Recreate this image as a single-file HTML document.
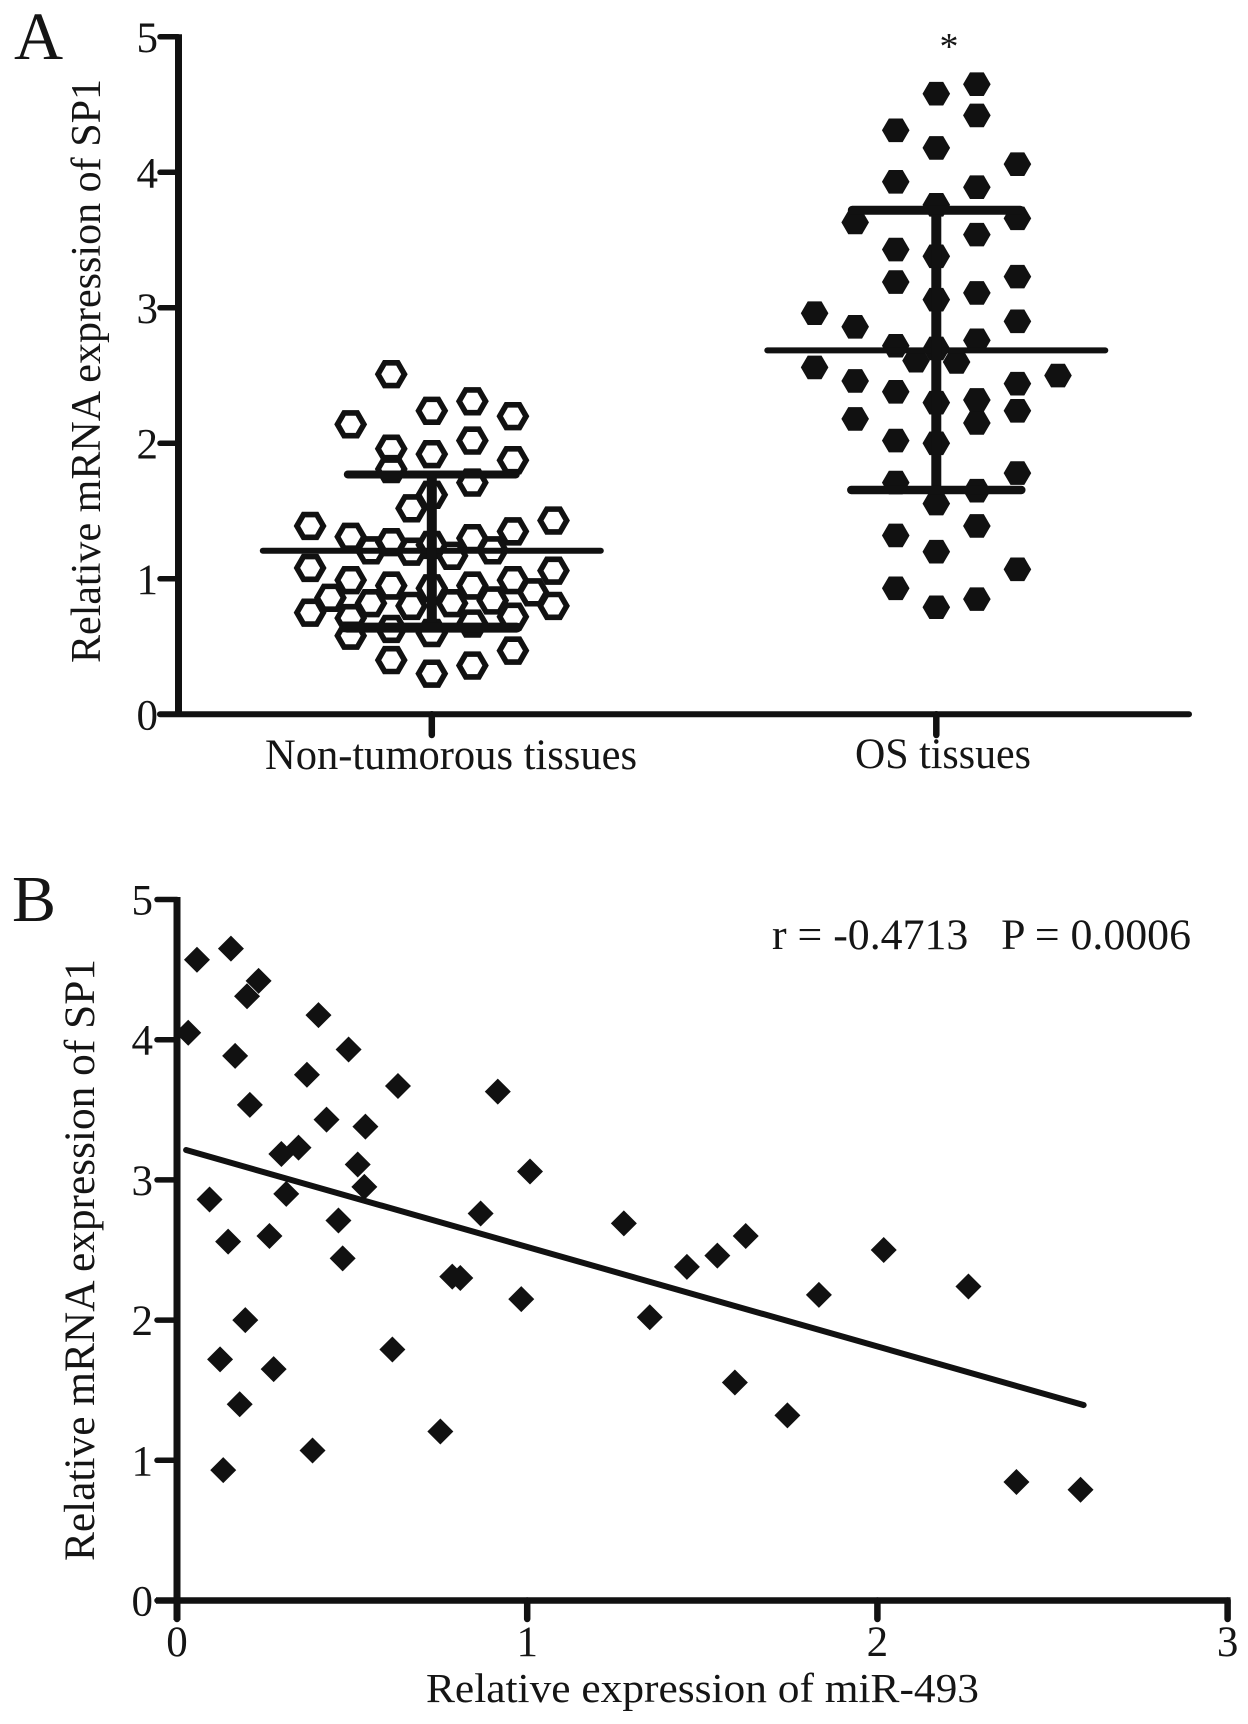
<!DOCTYPE html>
<html>
<head>
<meta charset="utf-8">
<title>SP1 expression figure</title>
<style>
html,body{margin:0;padding:0;background:#fff;width:1248px;height:1724px;overflow:hidden}
svg{display:block}
text{font-family:"Liberation Serif",serif;fill:#151515}
</style>
</head>
<body>
<svg id="fig" xmlns="http://www.w3.org/2000/svg" width="1248" height="1724" viewBox="0 0 1248 1724">
  <rect x="0" y="0" width="1248" height="1724" fill="#fff"/>
  <text x="14" y="59" font-size="68">A</text>
  <text x="12" y="921" font-size="66">B</text>
  <g id="panelA">
    <text x="100" y="663" font-size="42" textLength="584" lengthAdjust="spacingAndGlyphs" transform="rotate(-90 100 663)">Relative mRNA expression of SP1</text>
    <text x="949" y="59" font-size="38" text-anchor="middle">*</text>
  </g>
  <g id="panelB">
    <text x="94" y="1561" font-size="43" textLength="602" lengthAdjust="spacingAndGlyphs" transform="rotate(-90 94 1561)">Relative mRNA expression of SP1</text>
    <text x="426" y="1702" font-size="41" textLength="553" lengthAdjust="spacingAndGlyphs">Relative expression of miR-493</text>
    <text x="772" y="949" font-size="43" textLength="419" lengthAdjust="spacingAndGlyphs" xml:space="preserve">r = -0.4713   P = 0.0006</text>
  </g>
</svg>
<script>
const yTicksA = [0, 1, 2, 3, 4, 5];
const groupNames = ["Non-tumorous tissues", "OS tissues"];

const nonTumorValues = [2.51,2.24,2.31,2.20,2.14,1.96,1.92,2.02,1.875,1.81,1.71,1.62,1.52,1.39,1.31,1.27,1.25,1.30,1.35,1.43,1.21,1.20,1.17,1.21,1.08,0.99,0.95,0.93,0.95,0.99,1.06,0.86,0.82,0.80,0.82,0.84,0.90,0.75,0.80,0.71,0.58,0.63,0.60,0.67,0.72,0.40,0.30,0.36,0.47];
const nonTumorSwarmSlots = [-2,0,2,4,-4,-2,0,2,4,-2,2,0,-1,-6,-4,-2,0,2,4,6,-3,-1,1,3,-6,-4,-2,0,2,4,6,-5,-3,-1,1,3,5,-6,6,-4,-4,-2,0,2,4,-2,0,2,4];

const osValues = [4.65,4.58,4.42,4.31,4.18,4.06,3.93,3.89,3.76,3.63,3.66,3.54,3.43,3.38,3.19,3.23,3.06,3.11,2.96,2.86,2.90,2.76,2.72,2.70,2.61,2.60,2.56,2.50,2.46,2.44,2.38,2.30,2.32,2.15,2.24,2.18,2.02,2.00,1.78,1.71,1.65,1.555,1.39,1.32,1.20,1.07,0.93,0.85,0.79];
const osSwarmSlots = [2,0,2,-2,0,4,-2,2,0,-4,4,2,-2,0,-2,4,0,2,-6,-4,4,2,-2,0,-1,1,-6,6,-4,4,-2,0,2,2,4,-4,-2,0,4,-2,2,0,2,-2,0,4,-2,2,0];

const groupMeans = [1.207, 2.686];
const groupUpper = [1.77, 3.72];
const groupLower = [0.64, 1.655];

const mir493Values = [0.057,0.154,0.233,0.200,0.404,0.032,0.490,0.166,0.371,0.631,0.916,0.208,0.427,0.538,0.298,0.347,0.516,1.008,0.535,0.093,0.312,0.461,0.867,0.146,0.264,0.473,0.786,0.809,0.983,0.195,0.615,0.123,0.276,0.179,0.752,0.387,0.132,1.276,1.456,1.543,1.624,1.350,1.833,2.018,2.260,1.593,1.743,2.397,2.580];
const sp1Values = [4.57,4.65,4.42,4.31,4.175,4.05,3.93,3.885,3.75,3.67,3.63,3.535,3.43,3.38,3.185,3.23,3.11,3.06,2.95,2.86,2.90,2.71,2.76,2.56,2.60,2.44,2.31,2.30,2.15,2.00,1.79,1.72,1.65,1.40,1.205,1.07,0.93,2.69,2.38,2.46,2.60,2.02,2.18,2.50,2.24,1.555,1.32,0.845,0.79];
const fitX = [0.026, 2.589];
const fitY = [3.213, 1.394];
const yTicksB = [0, 1, 2, 3, 4, 5];
const xTicksB = [0, 1, 2, 3];

const NS = "http://www.w3.org/2000/svg";
const INK = "#111";
const panelA = document.getElementById("panelA");
const panelB = document.getElementById("panelB");

function el(parent, tag, attrs, txt) {
  const e = document.createElementNS(NS, tag);
  for (const k in attrs) e.setAttribute(k, attrs[k]);
  if (txt !== undefined) e.textContent = txt;
  parent.appendChild(e);
  return e;
}
function lineEl(parent, x1, y1, x2, y2, w, cap) {
  return el(parent, "line", {x1:x1, y1:y1, x2:x2, y2:y2, stroke:INK, "stroke-width":w, "stroke-linecap":cap || "butt"});
}

/* Panel A axes */
const yA = v => 714.3 - v * 135.5;
const groupX = i => 431.8 + i * 504.5;
const slotX = (i, s) => groupX(i) + s * 20.28;
function hexPath(cx, cy, w, h) {
  const q = w * 0.5;
  return "M" + (cx - w) + " " + cy + "L" + (cx - q) + " " + (cy - h) + "L" + (cx + q) + " " + (cy - h) +
         "L" + (cx + w) + " " + cy + "L" + (cx + q) + " " + (cy + h) + "L" + (cx - q) + " " + (cy + h) + "Z";
}

const axisAY = lineEl(panelA, 178.5, yA(5) - 2.5, 178.5, yA(0) + 2, 7);


const axisAX = lineEl(panelA, 160, yA(0), 1189, yA(0), 6, "round");



yTicksA.forEach(function (t) {
  const tick = lineEl(panelA, 160, yA(t), 178, yA(t), 5.5, "round");
  
  
  const label = el(panelA, "text", {x:158, y:yA(t) + 15, "font-size":43, "text-anchor":"end"}, String(t));
  
  
});

groupNames.forEach(function (name, i) {
  const tick = lineEl(panelA, groupX(i), yA(0), groupX(i), 735, 6.5, "round");
  
  
  const label = el(panelA, "text", i === 0
    ? {x:265, y:769, "font-size":43, textLength:372, lengthAdjust:"spacingAndGlyphs"}
    : {x:855, y:768, "font-size":43, textLength:176, lengthAdjust:"spacingAndGlyphs"}, name);
  
  
});

/* Panel A points */
nonTumorValues.forEach(function (v, k) {
  const p = el(panelA, "path", {d:hexPath(slotX(0, nonTumorSwarmSlots[k]), yA(v), 13.2, 11.4), fill:"none", stroke:INK, "stroke-width":5.6, "stroke-linejoin":"miter"});
  
  
});
osValues.forEach(function (v, k) {
  const p = el(panelA, "path", {d:hexPath(slotX(1, osSwarmSlots[k]), yA(v), 13.8, 11.8), fill:INK, stroke:"none"});
  
  
});

/* Panel A mean and SD bars */
groupMeans.forEach(function (m, i) {
  const cx = groupX(i);
  const mean = lineEl(panelA, cx - 169, yA(m), cx + 169, yA(m), 6, "round");
  
  
  const stem = lineEl(panelA, cx, yA(groupUpper[i]), cx, yA(groupLower[i]), 10);
  
  
  const top = lineEl(panelA, cx - 84, yA(groupUpper[i]), cx + 84, yA(groupUpper[i]), i === 0 ? 8 : 9, "round");
  
  
  const bottom = lineEl(panelA, cx - 85, yA(groupLower[i]), cx + 85, yA(groupLower[i]), i === 0 ? 10 : 8.5, "round");
  
  
});

/* Panel B axes */
const yB = v => 1600.5 - v * 140.2;
const xB = v => 177 + v * 350.2;

const axisBY = lineEl(panelB, xB(0), yB(5) - 2.5, xB(0), 1620, 7, "butt");


const axisBX = lineEl(panelB, 156, yB(0), xB(3) + 3, yB(0), 6.5);



yTicksB.forEach(function (t) {
  const tick = lineEl(panelB, 157, yB(t), xB(0), yB(t), 5.5, "round");
  
  
  const label = el(panelB, "text", {x:153, y:yB(t) + 15, "font-size":43, "text-anchor":"end"}, String(t));
  
  
});
xTicksB.forEach(function (t) {
  const tick = lineEl(panelB, xB(t), yB(0), xB(t), 1619, 6.5, "round");
  
  
  const label = el(panelB, "text", {x:xB(t), y:1656, "font-size":43, "text-anchor":"middle"}, String(t));
  
  
});

/* Panel B points and regression */
sp1Values.forEach(function (v, k) {
  const cx = xB(mir493Values[k]);
  const cy = yB(v);
  const d = "M" + (cx - 13) + " " + cy + "L" + cx + " " + (cy - 13) + "L" + (cx + 13) + " " + cy + "L" + cx + " " + (cy + 13) + "Z";
  const p = el(panelB, "path", {d:d, fill:INK});
  
  
});
const fit = lineEl(panelB, xB(fitX[0]), yB(fitY[0]), xB(fitX[1]), yB(fitY[1]), 6, "round");


</script>
</body>
</html>
